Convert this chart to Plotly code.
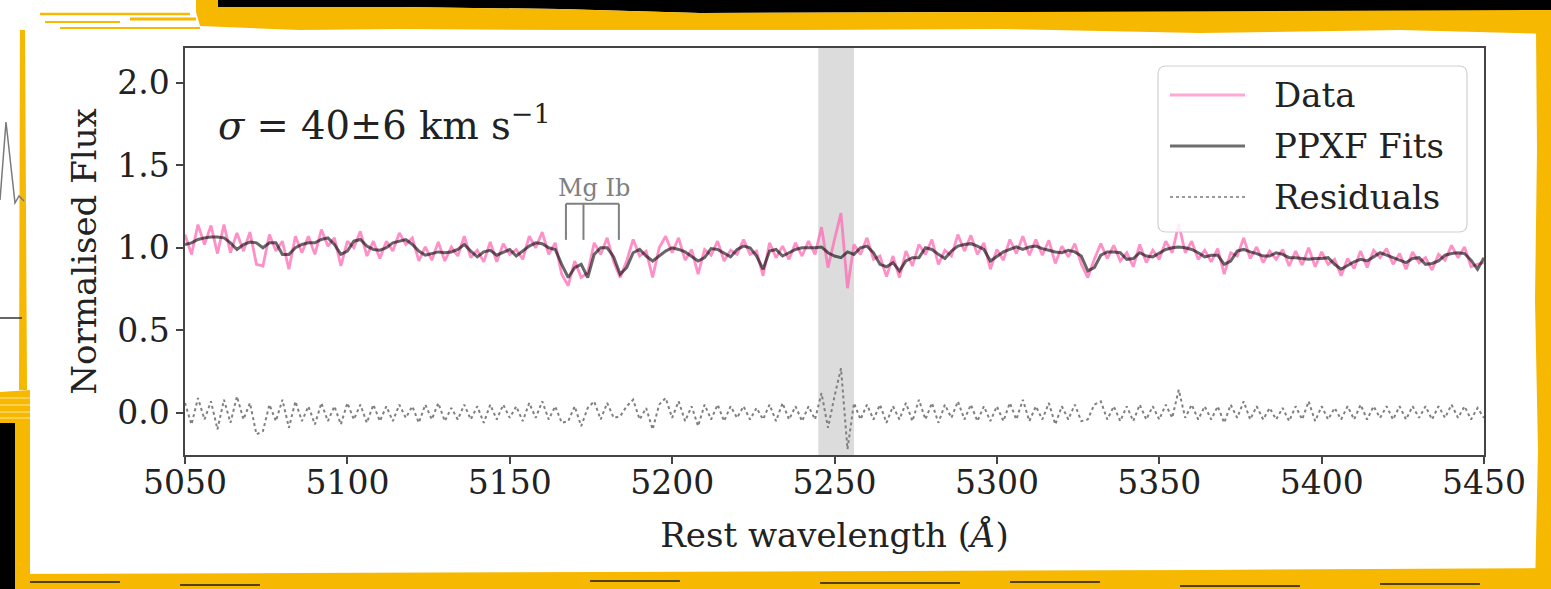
import numpy as np
import plotly.graph_objects as go

# ---------------- data ----------------
wl_start, wl_step, n_pts = 5050, 2, 201
wavelength = [wl_start + wl_step * i for i in range(n_pts)]

fit = [
    1.02, 1.03, 1.05, 1.06, 1.065, 1.065, 1.06, 1.03, 0.99, 1.02,
    1.035, 1.03, 1.0, 1.03, 1.03, 0.96, 0.96, 1.0, 1.02, 1.03,
    1.03, 1.05, 1.06, 1.02, 0.96, 0.98, 1.04, 1.05, 1.01, 0.99,
    0.985, 1.0, 1.03, 1.04, 1.05, 1.02, 0.98, 0.955, 0.965, 0.975,
    0.97, 0.975, 0.99, 1.02, 0.98, 0.945, 0.975, 0.985, 0.955, 0.975,
    0.99, 0.95, 0.98, 1.01, 1.03, 1.025, 1.0, 0.99, 0.9, 0.82,
    0.88, 0.9, 0.82, 0.96, 1.0, 1.0, 0.945, 0.84, 0.88, 0.97,
    0.99, 0.95, 0.92, 0.95, 0.98, 1.0, 0.99, 0.975, 0.95, 0.92,
    0.94, 0.995, 0.99, 0.97, 0.945, 0.99, 1.01, 1.0, 0.95, 0.87,
    0.98, 0.99, 0.95, 0.97, 0.99, 1.0, 1.0, 1.0, 1.005, 0.97,
    0.95, 0.94, 0.975, 0.96, 1.0, 1.01, 0.97, 0.9, 0.885, 0.91,
    0.86, 0.92, 0.94, 0.94, 1.0, 0.99, 0.96, 0.935, 0.98, 1.01,
    1.02, 1.025, 1.01, 0.99, 0.92, 0.95, 0.975, 0.99, 1.005, 0.99,
    1.005, 1.01, 0.995, 0.985, 0.975, 0.97, 0.985, 0.975, 0.95, 0.86,
    0.88, 0.955, 0.975, 0.975, 0.97, 0.93, 0.935, 0.97, 0.95, 0.945,
    0.97, 0.99, 1.0, 1.005, 1.0, 0.99, 0.97, 0.945, 0.955, 0.955,
    0.9, 0.92, 0.98, 0.99, 0.975, 0.965, 0.95, 0.95, 0.97, 0.96,
    0.94, 0.94, 0.935, 0.93, 0.935, 0.935, 0.94, 0.9, 0.87, 0.895,
    0.915, 0.93, 0.92, 0.945, 0.97, 0.955, 0.94, 0.925, 0.91, 0.935,
    0.94, 0.9, 0.905, 0.92, 0.955, 0.965, 0.97, 0.965, 0.925, 0.87,
    0.94,
]

flux = [
    1.08, 0.96, 1.14, 1.02, 1.135, 0.965, 1.14, 0.97, 1.09, 0.98,
    1.095, 0.90, 0.89, 1.08, 0.98, 1.04, 0.87, 1.07, 0.97, 1.07,
    0.96, 1.11, 1.01, 1.06, 0.89, 1.04, 1.00, 1.10, 0.95, 1.04,
    0.935, 1.04, 0.98, 1.09, 1.02, 1.06, 0.92, 1.005, 0.925, 1.035,
    0.92, 1.005, 0.95, 1.07, 0.94, 0.985, 0.915, 1.035, 0.915, 1.025,
    0.96, 0.99, 0.93, 1.07, 1.00, 1.095, 0.96, 1.03, 0.84, 0.77,
    0.92, 0.82, 0.85, 1.03, 0.96, 1.06, 0.915, 0.82, 0.92, 1.05,
    0.95, 0.98, 0.82, 1.00, 1.07, 0.97, 1.06, 0.925, 0.99, 0.84,
    0.99, 0.955, 1.04, 0.92, 0.985, 0.96, 1.05, 0.96, 0.98, 0.83,
    1.03, 0.94, 1.01, 0.93, 1.03, 0.95, 1.04, 0.96, 1.125, 0.88,
    1.05, 1.21, 0.755, 1.02, 0.96, 1.06, 0.93, 0.95, 0.825, 0.95,
    0.82, 0.98, 0.89, 1.02, 0.96, 1.05, 0.90, 0.985, 0.95, 1.08,
    0.98, 1.075, 0.96, 1.03, 0.87, 0.99, 0.925, 1.05, 0.965, 1.07,
    0.955, 1.05, 0.955, 1.045, 0.905, 1.01, 0.945, 1.025, 0.90, 0.82,
    0.93, 1.025, 0.935, 1.015, 0.92, 0.97, 0.885, 1.02, 0.91, 0.985,
    0.93, 1.04, 0.97, 1.145, 0.97, 1.04, 0.93, 0.985, 0.915, 0.995,
    0.84, 0.97, 0.95, 1.06, 0.935, 1.005, 0.91, 0.98, 0.93, 0.99,
    0.89, 0.98, 0.895, 1.00, 0.885, 0.975, 0.90, 0.93, 0.83, 0.935,
    0.875, 0.98, 0.88, 0.985, 0.94, 0.995, 0.90, 0.965, 0.87, 0.975,
    0.91, 0.94, 0.865, 0.96, 0.925, 1.015, 0.94, 1.005, 0.885, 0.90,
    0.91,
]

residuals = [f - m for f, m in zip(flux, fit)]

x_ticks = [5050, 5100, 5150, 5200, 5250, 5300, 5350, 5400, 5450]
y_ticks = [0.0, 0.5, 1.0, 1.5, 2.0]
masked_region = [5245, 5256]
mg_lines = [5167.3, 5172.7, 5183.6]
mg_bracket_y = [1.048, 1.267]
sigma_text = "<i>σ</i> = 40±6 km s<sup>−1</sup>"

# ---------------- layout geometry ----------------
W, H = 1551, 589
L, R, T, B = 185, 67, 48, 134
PW, PH = W - L - R, H - T - B


def px(x):
    return (x - L) / PW


def py(y):
    return (H - B - y) / PH


FONT = "DejaVu Serif"
TXT = "#222222"
YEL = "#f6b800"

fig = go.Figure()
fig.add_trace(go.Scatter(x=wavelength, y=flux, mode="lines", name="Data",
                         line=dict(color="rgba(255,105,180,0.75)", width=2.8)))
fig.add_trace(go.Scatter(x=wavelength, y=fit, mode="lines", name="PPXF Fits",
                         line=dict(color="rgba(0,0,0,0.6)", width=3)))
fig.add_trace(go.Scatter(x=wavelength, y=residuals, mode="lines", name="Residuals",
                         line=dict(color="#808080", width=2, dash="dot")))

shapes = []
# masked region
shapes.append(dict(type="rect", xref="x", yref="paper", x0=masked_region[0], x1=masked_region[1],
                   y0=0, y1=1, fillcolor="#dcdcdc", line=dict(width=0), layer="below"))
# Mg Ib bracket
for m in mg_lines:
    shapes.append(dict(type="line", xref="x", yref="y", x0=m, x1=m,
                       y0=mg_bracket_y[0], y1=mg_bracket_y[1],
                       line=dict(color="#808080", width=2)))
shapes.append(dict(type="line", xref="x", yref="y", x0=mg_lines[0], x1=mg_lines[-1],
                   y0=mg_bracket_y[1], y1=mg_bracket_y[1], line=dict(color="#808080", width=2)))


# legend box (rounded)
def rounded_rect(x0, y0, x1, y1, r):
    pts = (f"M {px(x0 + r)},{py(y0)} L {px(x1 - r)},{py(y0)} Q {px(x1)},{py(y0)} {px(x1)},{py(y0 + r)} "
           f"L {px(x1)},{py(y1 - r)} Q {px(x1)},{py(y1)} {px(x1 - r)},{py(y1)} "
           f"L {px(x0 + r)},{py(y1)} Q {px(x0)},{py(y1)} {px(x0)},{py(y1 - r)} "
           f"L {px(x0)},{py(y0 + r)} Q {px(x0)},{py(y0)} {px(x0 + r)},{py(y0)} Z")
    return pts


shapes.append(dict(type="path", xref="paper", yref="paper", path=rounded_rect(1158, 66, 1467, 232, 8),
                   fillcolor="rgba(255,255,255,0.85)", line=dict(color="#d0d0d0", width=1.2)))
leg_items = [("Data", 95, dict(color="#ffa8d6", width=3)),
             ("PPXF Fits", 146, dict(color="#6e6e6e", width=3)),
             ("Residuals", 197, dict(color="#999999", width=2, dash="dot"))]
annotations = []
for name, yy, ln in leg_items:
    shapes.append(dict(type="line", xref="paper", yref="paper", x0=px(1170), x1=px(1245),
                       y0=py(yy), y1=py(yy), line=ln))
    annotations.append(dict(xref="paper", yref="paper", x=px(1272), y=py(yy), text=name,
                            showarrow=False, xanchor="left", yanchor="middle",
                            font=dict(family=FONT, size=34, color=TXT)))

# sigma + Mg Ib
annotations.append(dict(xref="paper", yref="paper", x=px(216), y=py(123), text=sigma_text,
                        showarrow=False, xanchor="left", yanchor="middle",
                        font=dict(family=FONT, size=38.5, color=TXT)))
annotations.append(dict(xref="x", yref="paper", x=(mg_lines[0] + mg_lines[-1]) / 2 + 0.5, y=py(188),
                        text="Mg Ib", showarrow=False, xanchor="center", yanchor="middle",
                        font=dict(family=FONT, size=24, color="#808080")))


# ---------------- decorative frame ----------------
def prect(x0, y0, x1, y1, color, layer="above"):
    return dict(type="rect", xref="paper", yref="paper", x0=px(x0), x1=px(x1), y0=py(y1), y1=py(y0),
                fillcolor=color, line=dict(width=0), layer=layer)


def ppath(points, color, width=None, fill=None):
    d = "M " + " L ".join(f"{px(a)},{py(b)}" for a, b in points)
    if fill:
        d += " Z"
        return dict(type="path", xref="paper", yref="paper", path=d, fillcolor=fill,
                    line=dict(width=0))
    return dict(type="path", xref="paper", yref="paper", path=d,
                line=dict(color=color, width=width))


# top black band
shapes.append(ppath([(218, 0), (1551, 0), (1551, 12), (1300, 13), (1000, 12), (700, 13), (560, 9),
                     (400, 7), (218, 7)], None, fill="#000000"))
# top yellow band
shapes.append(ppath([(196, 0), (218, 0), (218, 7), (400, 7), (560, 9), (700, 13), (1551, 10),
                     (1551, 34), (1400, 30), (1200, 33), (1000, 29), (800, 30), (560, 30), (400, 29),
                     (300, 30), (200, 26), (196, 12)], None, fill=YEL))
for seg in [(40, 190, 14, 2.5), (45, 120, 22, 2), (60, 200, 28, 2), (130, 196, 19, 3)]:
    shapes.append(ppath([(seg[0], seg[2]), (seg[1], seg[2])], YEL, width=seg[3]))
# right yellow band
shapes.append(ppath([(1536, 30), (1551, 30), (1551, 589), (1535, 589), (1538, 450), (1535, 300),
                     (1537, 150)], None, fill=YEL))
# bottom yellow band
shapes.append(ppath([(0, 574), (300, 573), (600, 572), (900, 571), (1200, 570), (1551, 568),
                     (1551, 589), (0, 589)], None, fill=YEL))
for seg in [(10, 120, 582), (180, 260, 585), (590, 680, 581), (820, 960, 583), (1010, 1100, 582),
            (1180, 1300, 586), (1380, 1480, 584)]:
    shapes.append(ppath([(seg[0], seg[2]), (seg[1], seg[2])], "#1a1a1a", width=1.5))
# left frame
shapes.append(ppath([(0, 392), (30, 390), (30, 589), (0, 589)], None, fill=YEL))
shapes.append(prect(0, 423, 15, 589, "#000000"))
shapes.append(ppath([(20, 30), (25, 30), (27, 390), (19, 390)], None, fill=YEL))
for yy in [398, 405, 412, 418]:
    shapes.append(ppath([(0, yy), (30, yy)], "#ffe79a", width=1))
# fragment of neighbouring chart on the left
shapes.append(ppath([(0, 200), (6, 122), (15, 203), (19, 196), (24, 201)], "#7a7a7a", width=1.5))
shapes.append(ppath([(0, 318), (22, 318)], "#333333", width=1.5))

axis_common = dict(showline=True, mirror=True, linecolor="#444444", linewidth=1.5, ticks="outside",
                   ticklen=7, tickwidth=1.5, tickcolor="#444444", showgrid=False, zeroline=False,
                   tickfont=dict(family=FONT, size=33, color=TXT))

fig.update_layout(
    width=W, height=H, margin=dict(l=L, r=R, t=T, b=B, autoexpand=False),
    paper_bgcolor="white", plot_bgcolor="white", showlegend=False,
    font=dict(family=FONT, color=TXT),
    xaxis=dict(range=[5050, 5450], tickvals=x_ticks, ticktext=[str(t) for t in x_ticks],
               ticklabelstandoff=-9,
               title=dict(text="Rest wavelength (<i>Å</i>)", font=dict(family=FONT, size=34, color=TXT),
                          standoff=22), **axis_common),
    yaxis=dict(range=[-0.255, 2.21], tickvals=y_ticks, tickformat=".1f",
               title=dict(text="Normalised Flux", font=dict(family=FONT, size=34, color=TXT),
                          standoff=10), **axis_common),
    shapes=shapes, annotations=annotations,
)

fig.write_html("out.html")
